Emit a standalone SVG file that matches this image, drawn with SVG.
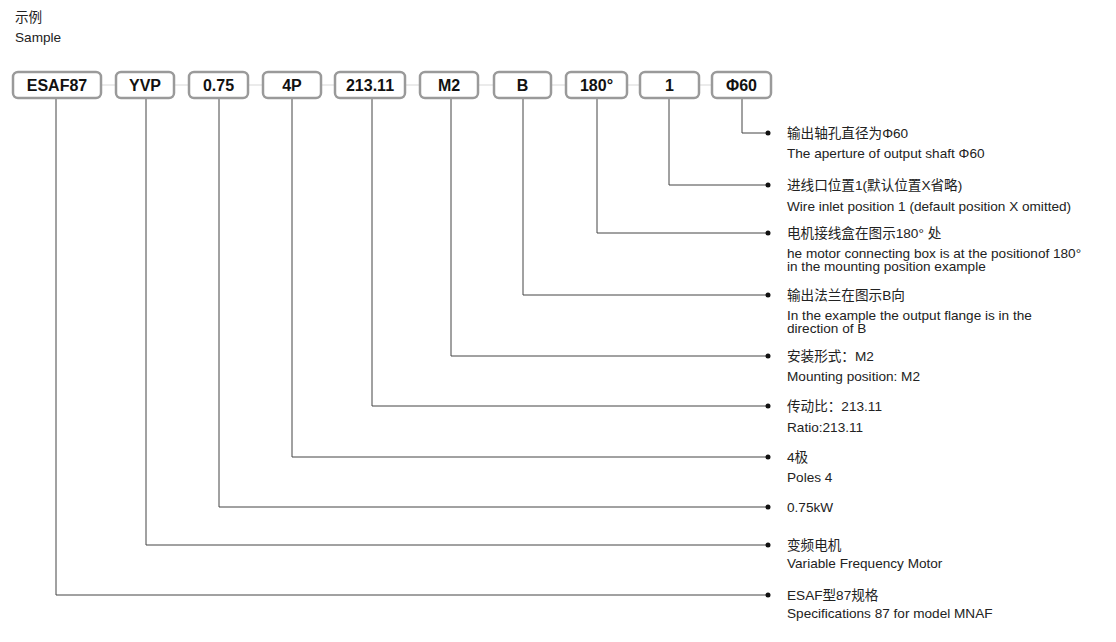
<svg xmlns="http://www.w3.org/2000/svg" width="1116" height="642" viewBox="0 0 1116 642">
<style>
.b rect{fill:#fff;stroke:#9a9a9a;stroke-width:2.5}
.b text{font-family:"Liberation Sans","Noto Sans CJK SC",sans-serif;font-size:16px;font-weight:bold;fill:#111;text-anchor:middle}
.t{font-family:"Liberation Sans","Noto Sans CJK SC",sans-serif;font-size:13.6px;fill:#222}
#conn path{fill:none;stroke:#444;stroke-width:1}
#conn circle{fill:#111}
</style>
<rect width="1116" height="642" fill="#fff"/>
<text class="t" x="15" y="22" font-size="15">示例</text>
<text class="t" x="15" y="42" font-size="14">Sample</text>
<line x1="13" y1="85" x2="771" y2="85" stroke="#e4e4e4" stroke-width="1.5"/>
<g id="conn">
<path d="M742 98V133H768"/><circle cx="768" cy="133" r="2.5"/>
<path d="M669 98V185H768"/><circle cx="768" cy="185" r="2.5"/>
<path d="M597 98V233H768"/><circle cx="768" cy="233" r="2.5"/>
<path d="M523 98V295H768"/><circle cx="768" cy="295" r="2.5"/>
<path d="M451 98V356H768"/><circle cx="768" cy="356" r="2.5"/>
<path d="M372 98V406H768"/><circle cx="768" cy="406" r="2.5"/>
<path d="M292 98V457H768"/><circle cx="768" cy="457" r="2.5"/>
<path d="M219 98V507H768"/><circle cx="768" cy="507" r="2.5"/>
<path d="M146 98V545H768"/><circle cx="768" cy="545" r="2.5"/>
<path d="M56 98V595H768"/><circle cx="768" cy="595" r="2.5"/>
</g>
<g id="n1" class="b"><rect x="13" y="72" width="88" height="26" rx="5"/><text x="57" y="91">ESAF87</text></g>
<g id="n2" class="b"><rect x="116" y="72" width="58" height="26" rx="5"/><text x="145" y="91">YVP</text></g>
<g id="n3" class="b"><rect x="189" y="72" width="59" height="26" rx="5"/><text x="218.5" y="91">0.75</text></g>
<g id="n4" class="b"><rect x="263" y="72" width="58" height="26" rx="5"/><text x="292" y="91">4P</text></g>
<g id="n5" class="b"><rect x="335" y="72" width="70" height="26" rx="5"/><text x="370" y="91">213.11</text></g>
<g id="n6" class="b"><rect x="420" y="72" width="58" height="26" rx="5"/><text x="449" y="91">M2</text></g>
<g id="n7" class="b"><rect x="494" y="72" width="57" height="26" rx="5"/><text x="522.5" y="91">B</text></g>
<g id="n8" class="b"><rect x="566" y="72" width="61" height="26" rx="5"/><text x="596.5" y="91">180°</text></g>
<g id="n9" class="b"><rect x="640" y="72" width="59" height="26" rx="5"/><text x="669.5" y="91">1</text></g>
<g id="n10" class="b"><rect x="712" y="72" width="59" height="26" rx="5"/><text x="741.5" y="91">Φ60</text></g>
<g id="labels" class="t">
<text x="787" y="138">输出轴孔直径为Φ60</text><text x="787" y="158">The aperture of output shaft Φ60</text>
<text x="787" y="190">进线口位置1(默认位置X省略)</text><text x="787" y="211">Wire inlet position 1 (default position X omitted)</text>
<text x="787" y="238">电机接线盒在图示180° 处</text><text x="787" y="258">he motor connecting box is at the positionof 180°</text><text x="787" y="271">in the mounting position example</text>
<text x="787" y="300">输出法兰在图示B向</text><text x="787" y="320">In the example the output flange is in the</text><text x="787" y="333">direction of B</text>
<text x="787" y="361">安装形式：M2</text><text x="787" y="381">Mounting position: M2</text>
<text x="787" y="411">传动比：213.11</text><text x="787" y="432">Ratio:213.11</text>
<text x="787" y="462">4极</text><text x="787" y="482">Poles 4</text>
<text x="787" y="512">0.75kW</text>
<text x="787" y="550">变频电机</text><text x="787" y="568">Variable Frequency Motor</text>
<text x="787" y="600">ESAF型87规格</text><text x="787" y="618">Specifications 87 for model MNAF</text>
</g>
</svg>
